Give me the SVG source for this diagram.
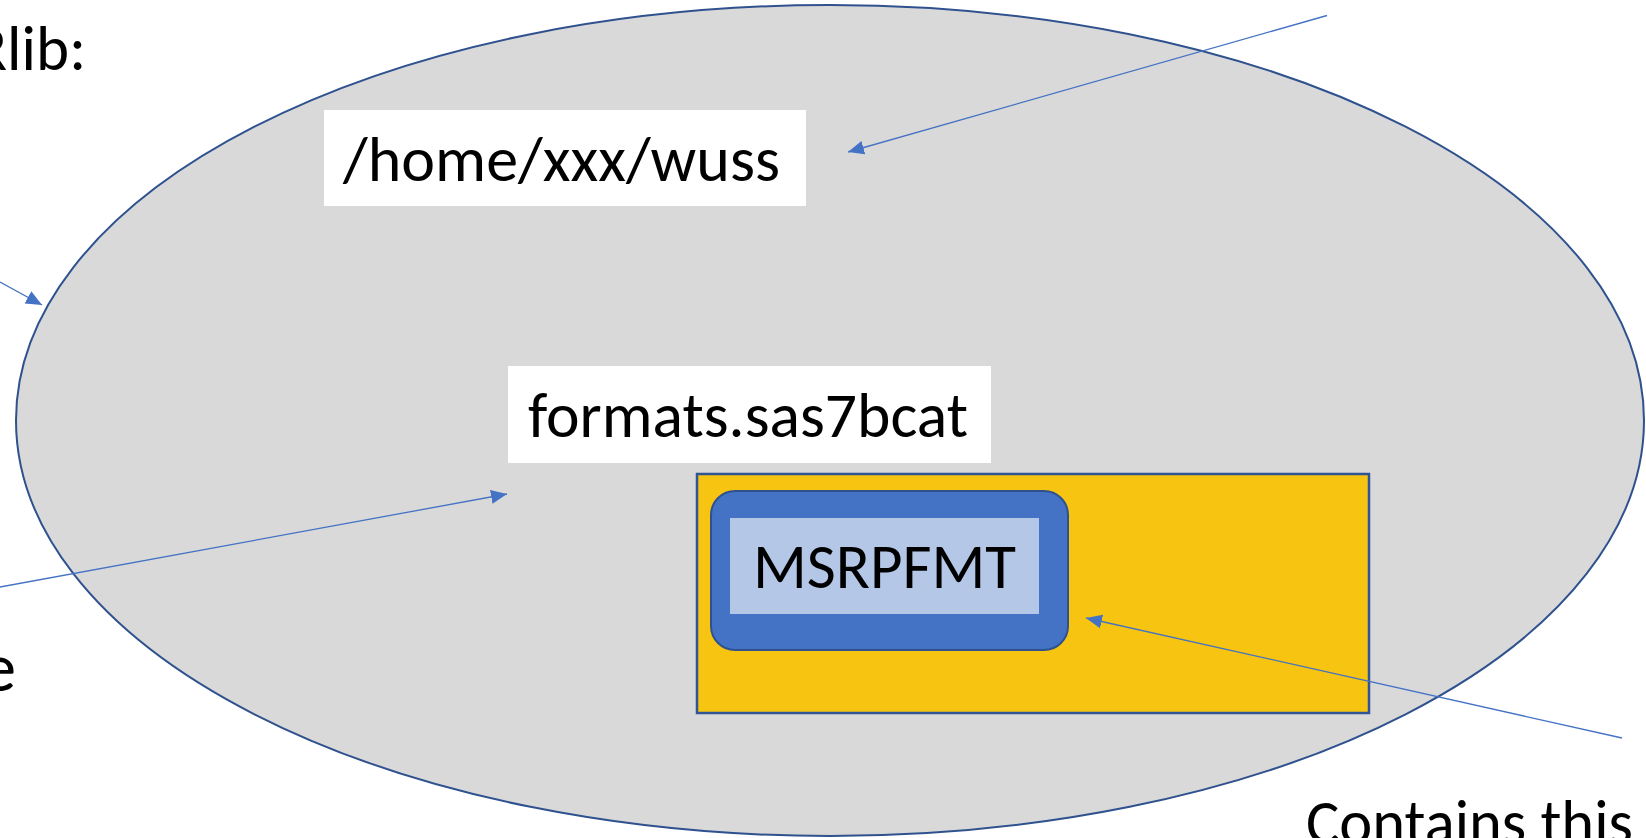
<svg xmlns="http://www.w3.org/2000/svg" width="1646" height="838" viewBox="0 0 1646 838">
<style>
.t{font-family:Carlito,Lato,"Liberation Sans",sans-serif;font-size:63px;fill:#000}
.c{stroke:#4472C4;stroke-width:1.3;fill:none}
</style>
<defs>
<marker id="ah" markerUnits="userSpaceOnUse" markerWidth="17" markerHeight="15" refX="16" refY="7" orient="auto">
<path d="M0,0 L16,7 L0,14 z" fill="#4472C4"/>
</marker>
</defs>
<rect width="1646" height="838" fill="#fff"/>
<g id="lib-ellipse">
<ellipse cx="830" cy="420.5" rx="814" ry="415.5" fill="#D9D9D9" stroke="#2F528F" stroke-width="2"/>
</g>
<g id="label-rlib"><text class="t" x="86" y="70" text-anchor="end">Rlib:</text></g>
<g id="label-e"><text class="t" x="16" y="691" text-anchor="end" style="font-size:70px">e</text></g>
<g id="path-box">
<rect x="324" y="110" width="482" height="96" fill="#fff"/>
<text class="t" x="343" y="181" textLength="437" lengthAdjust="spacingAndGlyphs">/home/xxx/wuss</text>
</g>
<g id="catalog-box">
<rect x="508" y="366" width="483" height="97" fill="#fff"/>
<text class="t" x="528" y="437" textLength="440" lengthAdjust="spacingAndGlyphs">formats.sas7bcat</text>
</g>
<g id="catalog-content">
<rect x="697" y="474" width="672" height="239" fill="#F7C511" stroke="#2F5597" stroke-width="2.5"/>
</g>
<g id="format-entry">
<rect x="711" y="491" width="357" height="159" rx="24" ry="24" fill="#4472C4" stroke="#2F528F" stroke-width="2"/>
<rect x="730" y="518" width="309" height="96" fill="#B4C7E7"/>
<text class="t" x="753" y="588" textLength="263" lengthAdjust="spacingAndGlyphs">MSRPFMT</text>
</g>
<g id="label-contains"><text class="t" x="1306" y="844" textLength="327" lengthAdjust="spacingAndGlyphs">Contains this</text></g>
<g id="connectors">
<line class="c" x1="1327" y1="15.5" x2="848" y2="152" marker-end="url(#ah)"/>
<line class="c" x1="0" y1="282" x2="42" y2="305" marker-end="url(#ah)"/>
<line class="c" x1="0" y1="587" x2="507" y2="494" marker-end="url(#ah)"/>
<line class="c" x1="1622" y1="738" x2="1086" y2="618" marker-end="url(#ah)"/>
</g>
</svg>
